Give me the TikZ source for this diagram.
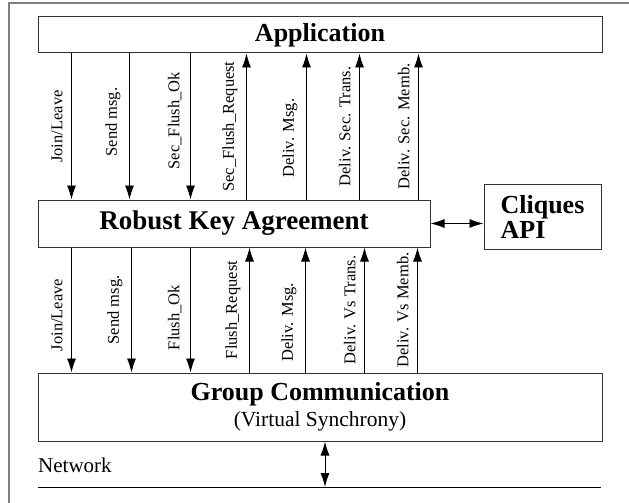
\documentclass[tikz,border=0pt]{standalone}
\usepackage{fontspec}
\setmainfont{Liberation Serif}
\usetikzlibrary{arrows.meta,calc}

\tikzset{
  layer/.style={draw=black!80,line width=1pt,inner sep=0pt},
  sig/.style={-{Latex[length=14pt,width=9pt]},line width=0.9pt},
  both/.style={{Latex[length=14pt,width=9pt]}-{Latex[length=14pt,width=9pt]},line width=0.9pt},
  lbl/.style={midway,rotate=90,anchor=south,inner sep=4pt,outer sep=5pt,font=\fontsize{16.5}{18}\selectfont}
}

\begin{document}
\begin{tikzpicture}[x=1pt,y=-1pt]
\useasboundingbox (0,0) rectangle (629,503);
\draw[gray,line width=1.5pt] (9,503) -- (9,3) -- (629,3);

% the three layers and the key library
\node[layer,minimum width=564pt,minimum height=36pt,font=\fontsize{26}{28}\selectfont\bfseries] (app) at (320,35) {Application};
\node[layer,minimum width=392pt,minimum height=47pt,font=\fontsize{27}{28}\selectfont\bfseries] (rka) at (234,223.5) {Robust Key Agreement};
\node[layer,minimum width=117pt,minimum height=65pt,align=left,font=\fontsize{26}{25}\selectfont\bfseries] (cliq) at (542.5,216.5) {Cliques\\API};
\node[layer,minimum width=564pt,minimum height=68pt,align=center] (gc) at (320,407) {\fontsize{26}{28}\selectfont\bfseries Group Communication\\[4pt]\fontsize{21.5}{26}\selectfont (Virtual Synchrony)};

% application <-> key agreement
\draw[sig] ($(app.south west)+(34,0)$) -- ($(rka.north west)+(34,0)$) node[lbl] {Join/Leave};
\draw[sig] ($(app.south west)+(92,0)$) -- ($(rka.north west)+(92,0)$) node[lbl,pos=0.47] {Send msg.};
\draw[sig] ($(app.south west)+(153,0)$) -- ($(rka.north west)+(153,0)$) node[lbl,pos=0.46] {Sec\_Flush\_Ok};
\draw[sig] ($(rka.north west)+(209,0)$) -- ($(app.south west)+(209,0)$) node[lbl] {Sec\_Flush\_Request};
\draw[sig] ($(rka.north west)+(269,0)$) -- ($(app.south west)+(269,0)$) node[lbl,pos=0.42] {Deliv. Msg.};
\draw[sig] ($(rka.north west)+(322,0)$) -- ($(app.south west)+(322,0)$) node[lbl] {Deliv. Sec. Trans.};
\draw[sig] ($(rka.north west)+(381,0)$) -- ($(app.south west)+(381,0)$) node[lbl] {Deliv. Sec. Memb.};

% key agreement <-> group communication
\draw[sig] ($(rka.south west)+(34,0)$) -- ($(gc.north west)+(34,0)$) node[lbl,pos=0.54] {Join/Leave};
\draw[sig] ($(rka.south west)+(94,0)$) -- ($(gc.north west)+(94,0)$) node[lbl] {Send msg.};
\draw[sig] ($(rka.south west)+(153,0)$) -- ($(gc.north west)+(153,0)$) node[lbl,pos=0.56] {Flush\_Ok};
\draw[sig] ($(gc.north west)+(212,0)$) -- ($(rka.south west)+(212,0)$) node[lbl] {Flush\_Request};
\draw[sig] ($(gc.north west)+(268,0)$) -- ($(rka.south west)+(268,0)$) node[lbl,pos=0.4] {Deliv. Msg.};
\draw[sig] ($(gc.north west)+(327,0)$) -- ($(rka.south west)+(327,0)$) node[lbl] {Deliv. Vs Trans.};
\draw[sig] ($(gc.north west)+(380,0)$) -- ($(rka.south west)+(380,0)$) node[lbl] {Deliv. Vs Memb.};

\draw[both] (rka.east) -- (rka.east -| cliq.west);

% network
\coordinate (netl) at (38,487);
\coordinate (netr) at (601,487);
\draw[line width=1pt] (netl) -- (netr);
\node[anchor=base west,inner sep=0pt,font=\fontsize{21}{22}\selectfont] (net) at (38,472) {Network};
\coordinate (na) at ($(gc.south)+(5,0)$);
\draw[both] (na) -- (na |- netl);
\end{tikzpicture}
\end{document}
